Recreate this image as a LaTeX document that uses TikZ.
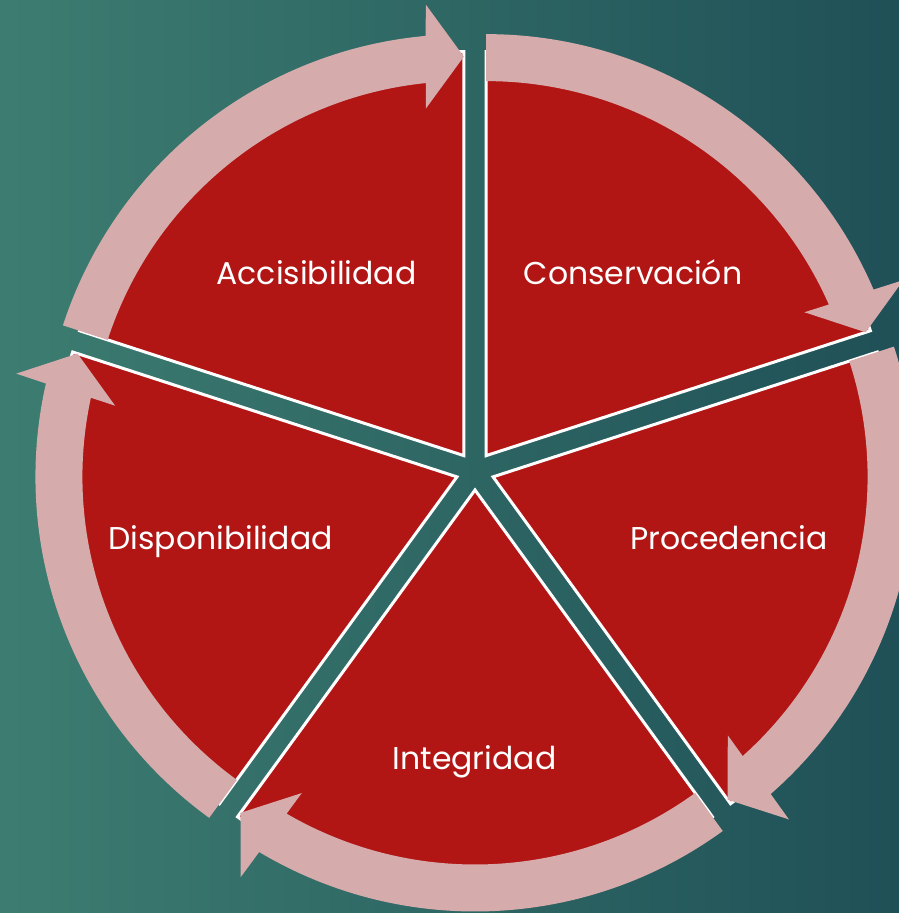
\documentclass[tikz,border=0pt]{standalone}
\usepackage{fontspec}
\setmainfont{Poppins}
\usetikzlibrary{calc}
\definecolor{bgL}{HTML}{3D7D71}
\definecolor{bgR}{HTML}{1F5057}
\definecolor{segred}{HTML}{B11615}
\definecolor{arrowpink}{HTML}{D5ABAB}
\begin{document}
\begin{tikzpicture}[x=1pt,y=1pt,
  lbl/.style={text=white, font=\fontsize{31.5}{34}\selectfont, anchor=base, inner sep=0pt},
  seg/.style={fill=segred, draw=white, line width=3pt, line join=miter},
  arr/.style={fill=arrowpink}]
\useasboundingbox (0,0) rectangle (899,913);
\shade[left color=bgL, right color=bgR] (0,0) rectangle (899,913);
\coordinate (C) at (475,442);
% segments
\foreach \t/\n in {126/A, 54/B, -18/P, -90/I, 198/D} {
  \pgfmathsetmacro\aa{\t+36}
  \pgfmathsetmacro\bb{\t-36}
  \coordinate (O\n) at ($(C)+(\t:19)$);
  \filldraw[seg] (O\n) -- ($(O\n)+(\aa:404)$) arc[start angle=\aa, end angle=\bb, radius=404] -- cycle;
}
% arrows
\foreach \t/\n in {126/A, 54/B, -18/P, -90/I, 198/D} {
  \pgfmathsetmacro\aa{\t+36}
  \pgfmathsetmacro\bb{\t-36}
  \pgfmathsetmacro\ci{\t-36+5.8}
  \pgfmathsetmacro\co{\t-36+5.2}
  \pgfmathsetmacro\bp{\t-36+90}
  \pgfmathsetmacro\bm{\t-36+180}
  \coordinate (T\n) at ($(O\n)+(\bb:399)$);
  \coordinate (B\n) at ($(T\n)+(\bp:38)$);
  \fill[arr] ($(O\n)+(\aa:374.5)$) arc[start angle=\aa, end angle=\ci, radius=374.5]
    -- ($(B\n)+(\bm:52)$) -- (T\n) -- ($(B\n)+(\bb:52)$)
    -- ($(O\n)+(\co:421.5)$) arc[start angle=\co, end angle=\aa, radius=421.5] -- cycle;
}
% labels
\node[lbl] (la) at (316.5,628) {Accisibilidad};
\node[lbl] (lb) at (633,628) {Conservación};
\node[lbl] (lp) at (729,363) {Procedencia};
\node[lbl] (li) at (474.5,143) {Integridad};
\node[lbl] (ld) at (220.5,363) {Disponibilidad};
\end{tikzpicture}
\end{document}
